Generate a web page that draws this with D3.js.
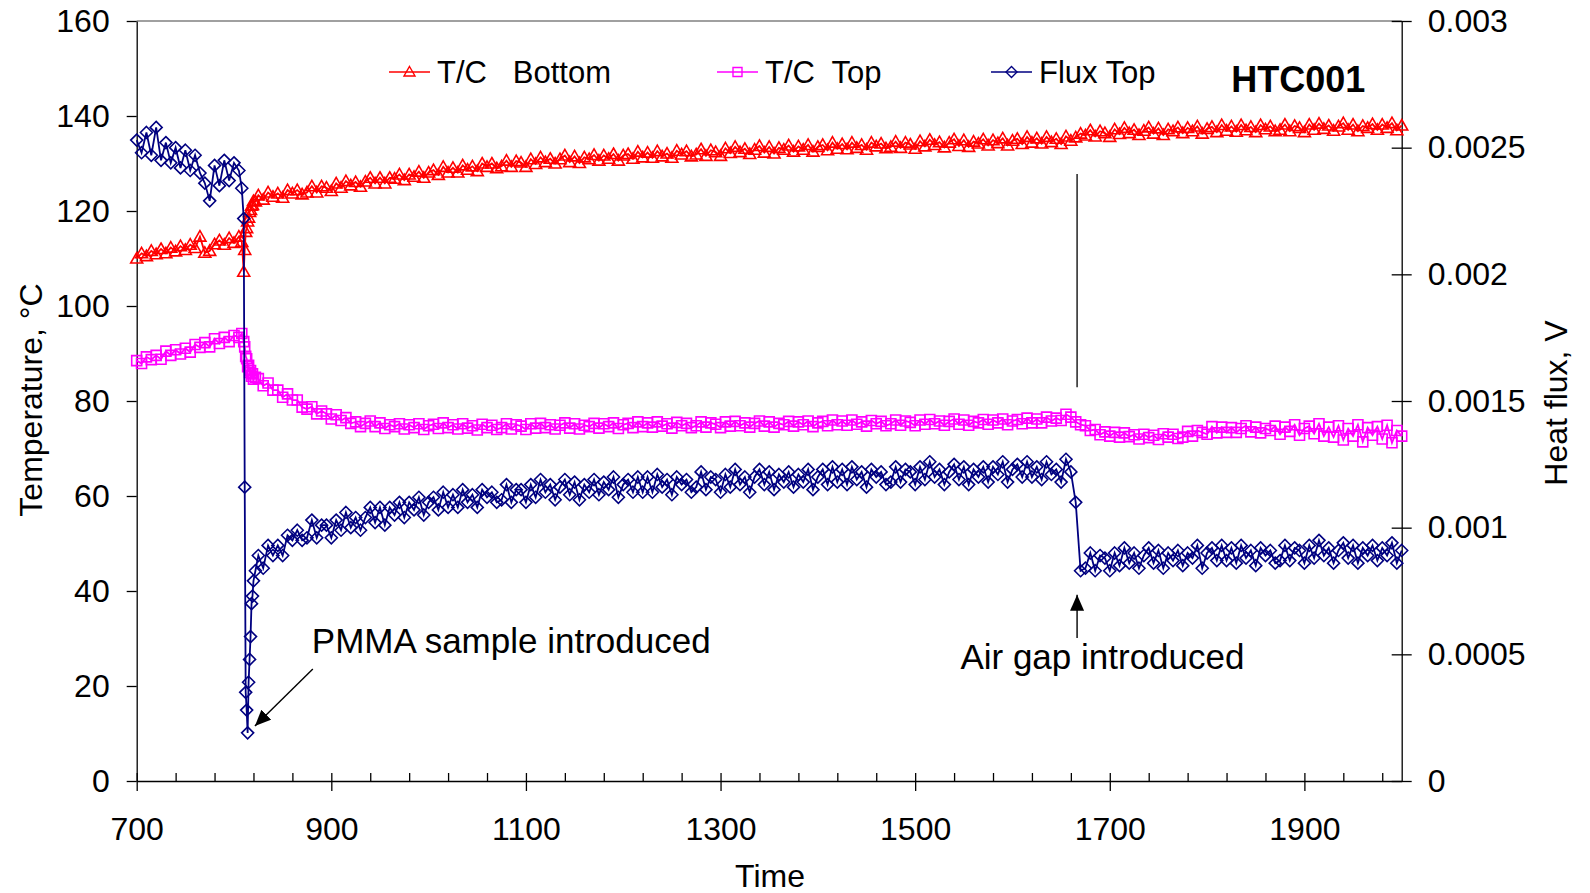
<!DOCTYPE html>
<html>
<head>
<meta charset="utf-8">
<title>HTC001</title>
<script src="https://cdn.jsdelivr.net/npm/d3@7"></script>
<style>
  body { margin: 0; background: #fff; }
  svg { display: block; font-family: "Liberation Sans", Arial, sans-serif; }
  text { white-space: pre; }
</style>
</head>
<body>
<div id="chart"></div>
<script>
// sampling times, s (5 s grid, denser around the moment the sample goes in)
const dropTimes = [805, 808, 810, 811, 812, 813, 814, 815, 816, 817, 818, 819, 820, 822];
const time = d3.range(700, 801, 5).concat(dropTimes, d3.range(825, 2001, 5));

// T/C Bottom, deg C
const tcBottom = [
  110.0, 111.1, 110.5, 111.6, 110.9, 112.0, 111.1, 112.3, 111.5, 112.6,
  111.8, 112.9, 112.2, 114.6, 111.2, 111.6, 113.0, 113.8, 112.9, 114.3,
  113.3,
  114.6, 113.5, 107.2, 111.8, 115.6, 116.4, 117.8, 118.6, 119.8, 120.2, 121.1, 121.3, 122.1, 122.0,
  123.3, 122.4, 123.9, 123.0, 123.7, 122.8, 124.4, 123.7, 124.4, 123.5,
  123.9, 125.2, 123.9, 125.2, 124.9, 124.2, 125.8, 124.9, 126.3, 125.4,
  126.1, 125.1, 126.2, 127.0, 125.8, 127.0, 125.8, 127.0, 126.8, 127.7,
  126.5, 127.7, 127.2, 128.3, 127.0, 128.1, 128.6, 127.6, 129.3, 128.1,
  129.1, 128.1, 129.6, 128.7, 129.4, 128.4, 130.0, 129.3, 130.0, 129.0,
  129.4, 130.6, 129.3, 130.5, 130.2, 129.3, 130.9, 129.9, 131.3, 130.3,
  131.0, 130.0, 130.9, 131.7, 130.3, 131.5, 130.1, 131.3, 130.9, 131.8,
  130.6, 131.7, 131.0, 132.0, 130.6, 131.7, 132.0, 131.0, 132.5, 131.3,
  132.3, 131.2, 132.6, 131.5, 132.1, 131.2, 132.7, 131.9, 132.6, 131.5,
  131.9, 133.0, 131.6, 132.8, 132.4, 131.6, 133.2, 132.2, 133.5, 132.4,
  133.1, 132.0, 132.9, 133.7, 132.3, 133.5, 132.1, 133.3, 132.9, 133.8,
  132.5, 133.6, 132.9, 133.9, 132.5, 133.5, 133.9, 132.8, 134.4, 133.1,
  134.1, 133.0, 134.4, 133.3, 133.9, 132.9, 134.4, 133.6, 134.2, 133.2,
  133.5, 134.6, 133.3, 134.4, 134.0, 133.1, 134.7, 133.6, 135.0, 133.9,
  134.5, 133.4, 134.4, 135.1, 133.7, 134.9, 133.5, 134.6, 134.2, 135.1,
  133.8, 134.9, 134.3, 135.3, 133.8, 134.8, 135.2, 134.1, 135.6, 134.4,
  135.3, 134.2, 135.6, 134.5, 135.2, 134.1, 135.7, 134.8, 135.5, 136.3,
  135.9, 137.0, 135.7, 136.8, 136.4, 135.6, 137.2, 136.2, 137.5, 136.4,
  137.1, 136.0, 136.9, 137.6, 136.3, 137.4, 136.0, 137.2, 136.8, 137.6,
  136.4, 137.5, 136.8, 137.8, 136.3, 137.3, 137.7, 136.6, 138.1, 136.9,
  137.8, 136.7, 138.1, 137.0, 137.7, 136.6, 138.1, 137.2, 137.8, 136.8,
  137.1, 138.2, 136.8, 137.9, 137.5, 136.6, 138.2, 137.1, 138.4, 137.3,
  138.0, 136.9, 137.8, 138.5, 137.1, 138.2, 136.8, 137.9, 137.5, 138.3,
  137.1, 138.2, 137.5, 138.5, 137.0, 138.0
];

// T/C Top, deg C
const tcTop = [
  88.5, 87.9, 89.3, 88.7, 89.6, 88.8, 90.5, 89.6, 90.8, 89.9,
  91.1, 90.3, 91.9, 91.3, 92.3, 91.4, 93.1, 92.1, 93.4, 92.5,
  93.8,
  93.4, 94.2, 92.5, 91.4, 89.4, 88.9, 87.2, 87.5, 86.0, 86.4, 85.2, 85.7, 84.6, 85.0,
  84.7, 83.2, 83.8, 82.3, 82.3, 80.8, 81.5, 80.2, 80.2, 78.7,
  78.3, 78.8, 77.3, 77.9, 77.3, 76.2, 77.1, 75.9, 76.5, 75.3,
  75.6, 74.6, 75.3, 75.8, 74.6, 75.4, 74.2, 75.0, 74.6, 75.2,
  74.1, 75.0, 74.4, 75.2, 74.0, 74.8, 75.1, 74.2, 75.4, 74.4,
  75.0, 74.1, 75.2, 74.3, 74.8, 73.9, 75.1, 74.4, 74.9, 74.0,
  74.4, 75.2, 74.1, 75.0, 74.7, 74.0, 75.2, 74.3, 75.3, 74.4,
  75.0, 74.1, 74.9, 75.4, 74.3, 75.2, 74.1, 74.9, 74.6, 75.3,
  74.3, 75.2, 74.6, 75.4, 74.2, 75.0, 75.3, 74.4, 75.6, 74.6,
  75.4, 74.5, 75.6, 74.7, 75.2, 74.3, 75.5, 74.8, 75.3, 74.4,
  74.8, 75.6, 74.5, 75.4, 75.1, 74.4, 75.6, 74.7, 75.7, 74.8,
  75.4, 74.5, 75.3, 75.8, 74.7, 75.6, 74.5, 75.3, 75.0, 75.7,
  74.7, 75.6, 75.0, 75.8, 74.6, 75.4, 75.7, 74.8, 76.0, 75.0,
  75.8, 74.9, 76.0, 75.1, 75.6, 74.7, 75.9, 75.2, 75.7, 74.8,
  75.2, 76.0, 74.9, 75.8, 75.5, 74.8, 76.0, 75.1, 76.1, 75.2,
  75.8, 74.9, 75.7, 76.2, 75.1, 76.0, 74.9, 75.7, 75.4, 76.1,
  75.1, 76.0, 75.4, 76.2, 75.0, 75.8, 76.1, 75.2, 76.4, 75.4,
  76.2, 75.4, 76.6, 75.8, 76.4, 75.9, 77.2, 76.6, 75.6, 75.0,
  74.8, 73.8, 74.0, 72.9, 73.5, 72.6, 73.4, 72.4, 73.3, 72.5,
  72.9, 72.0, 73.0, 72.3, 72.8, 71.9, 73.1, 72.4, 73.0, 72.1,
  72.4, 73.6, 72.6, 73.8, 73.4, 73.0, 74.6, 73.3, 74.5, 73.4,
  74.4, 73.4, 74.2, 74.8, 73.5, 74.5, 73.3, 74.2, 73.8, 74.7,
  73.0, 74.5, 73.6, 75.0, 72.8, 74.2, 74.7, 73.1, 75.2, 72.6,
  74.5, 72.4, 74.8, 71.8, 74.2, 72.6, 75.0, 71.4, 74.4, 72.8,
  74.6, 72.0, 74.9, 71.2, 73.8, 72.6
];

// Flux Top, V (secondary axis)
const fluxTop = [
  0.00253, 0.00248, 0.00256, 0.00247, 0.00258, 0.00245, 0.00252, 0.00244, 0.00250, 0.00242,
  0.00249, 0.00241, 0.00247, 0.00240, 0.00236, 0.00229, 0.00243, 0.00235, 0.00245, 0.00237,
  0.00244,
  0.00241, 0.00234, 0.00222, 0.00116, 0.00035, 0.00028, 0.00019, 0.00039, 0.00048, 0.00057, 0.00070, 0.00073, 0.00079, 0.00083,
  0.00089, 0.00084, 0.00093, 0.00089, 0.00093, 0.00089, 0.00097, 0.00095, 0.00099, 0.00095,
  0.00096, 0.00103, 0.00096, 0.00101, 0.00101, 0.00096, 0.00103, 0.00099, 0.00106, 0.00100,
  0.00104, 0.00099, 0.00104, 0.00108, 0.00102, 0.00108, 0.00101, 0.00108, 0.00105, 0.00110,
  0.00104, 0.00110, 0.00107, 0.00112, 0.00105, 0.00110, 0.00112, 0.00107, 0.00114, 0.00108,
  0.00113, 0.00108, 0.00115, 0.00110, 0.00113, 0.00108, 0.00115, 0.00112, 0.00114, 0.00110,
  0.00111, 0.00117, 0.00110, 0.00115, 0.00115, 0.00110, 0.00117, 0.00112, 0.00119, 0.00114,
  0.00117, 0.00111, 0.00116, 0.00119, 0.00113, 0.00118, 0.00111, 0.00117, 0.00114, 0.00119,
  0.00113, 0.00118, 0.00115, 0.00120, 0.00112, 0.00117, 0.00119, 0.00114, 0.00120, 0.00114,
  0.00120, 0.00114, 0.00121, 0.00116, 0.00119, 0.00113, 0.00120, 0.00117, 0.00119, 0.00114,
  0.00116, 0.00122, 0.00115, 0.00120, 0.00119, 0.00114, 0.00121, 0.00116, 0.00123, 0.00117,
  0.00120, 0.00114, 0.00120, 0.00123, 0.00117, 0.00122, 0.00115, 0.00121, 0.00118, 0.00122,
  0.00116, 0.00121, 0.00118, 0.00123, 0.00115, 0.00120, 0.00123, 0.00117, 0.00124, 0.00118,
  0.00123, 0.00117, 0.00124, 0.00119, 0.00122, 0.00116, 0.00123, 0.00120, 0.00122, 0.00117,
  0.00118, 0.00124, 0.00118, 0.00123, 0.00122, 0.00117, 0.00124, 0.00119, 0.00126, 0.00120,
  0.00123, 0.00117, 0.00122, 0.00125, 0.00119, 0.00124, 0.00117, 0.00123, 0.00120, 0.00124,
  0.00118, 0.00124, 0.00121, 0.00126, 0.00118, 0.00123, 0.00125, 0.00120, 0.00126, 0.00120,
  0.00124, 0.00119, 0.00126, 0.00121, 0.00123, 0.00118, 0.00127, 0.00122, 0.00110, 0.00083,
  0.00084, 0.00090, 0.00083, 0.00089, 0.00088, 0.00083, 0.00090, 0.00085, 0.00092, 0.00086,
  0.00090, 0.00084, 0.00089, 0.00092, 0.00086, 0.00091, 0.00084, 0.00090, 0.00087, 0.00091,
  0.00085, 0.00090, 0.00088, 0.00093, 0.00084, 0.00090, 0.00092, 0.00087, 0.00093, 0.00087,
  0.00092, 0.00086, 0.00093, 0.00088, 0.00091, 0.00085, 0.00092, 0.00089, 0.00091, 0.00086,
  0.00087, 0.00093, 0.00087, 0.00092, 0.00091, 0.00086, 0.00093, 0.00088, 0.00095, 0.00089,
  0.00092, 0.00086, 0.00091, 0.00094, 0.00088, 0.00093, 0.00086, 0.00092, 0.00089, 0.00093,
  0.00087, 0.00092, 0.00089, 0.00094, 0.00086, 0.00091
];

const timeTicks = [700, 900, 1100, 1300, 1500, 1700, 1900];
const tempTicks = [0, 20, 40, 60, 80, 100, 120, 140, 160];
const fluxTicks = [0, 0.0005, 0.001, 0.0015, 0.002, 0.0025, 0.003];
const fluxTickLabels = ['0', '0.0005', '0.001', '0.0015', '0.002', '0.0025', '0.003'];
const seriesNames = ['T/C   Bottom', 'T/C  Top', 'Flux Top'];

// notes placed in data units (time, deg C)
const notes = [
  { text: 'PMMA sample introduced', t: 880, temp: 27.0, from: [881, 23.6], to: [821.5, 11.6] },
  { text: 'Air gap introduced', t: 1546.5, temp: 23.5, from: [1666.4, 30.1], to: [1666.4, 39.2] }
];
const gapLine = { t: 1666.4, from: 127.8, to: 82.9 };

const width = 1590, height = 893;
const plotLeft = 136.7, plotRight = 1401.7, plotTop = 21, plotBottom = 781;
const font = '"Liberation Sans", Arial, sans-serif';

const svg = d3.select('#chart').append('svg')
  .attr('width', width)
  .attr('height', height);

svg.append('rect').attr('width', width).attr('height', height).attr('fill', '#fff');

const x = d3.scaleLinear().domain([700, 2000]).range([plotLeft, plotRight]);
const yT = d3.scaleLinear().domain([0, 160]).range([plotBottom, plotTop]);
const yF = d3.scaleLinear().domain([0, 0.003]).range([plotBottom, plotTop]);

// marker shapes
const triangle = 'M0,-6L6,4.5L-6,4.5Z';
const square = 'M-5,-5H5V5H-5Z';
const diamond = 'M0,-6L6,0L0,6L-6,0Z';

// plot area top edge
svg.append('line')
  .attr('x1', plotLeft).attr('x2', plotRight).attr('y1', plotTop).attr('y2', plotTop)
  .attr('stroke', '#808080').attr('stroke-width', 1.3);

function styleAxis(g) {
  g.attr('font-family', font).attr('font-size', 32).attr('color', '#000');
  g.selectAll('path, line').attr('stroke-width', 1.3);
}

// minor time ticks, inside
const minorTicks = d3.range(740, 2000, 40).filter(v => (v - 700) % 200 !== 0);
svg.append('g')
  .attr('transform', `translate(0,${plotBottom})`)
  .call(d3.axisBottom(x).tickValues(minorTicks).tickSize(-8).tickFormat(''))
  .call(styleAxis)
  .call(g => g.select('.domain').remove());

// time axis, major ticks cross the axis
svg.append('g')
  .attr('transform', `translate(0,${plotBottom})`)
  .call(d3.axisBottom(x).tickValues(timeTicks).tickSizeInner(10).tickSizeOuter(0).tickPadding(26).tickFormat(d3.format('d')))
  .call(styleAxis)
  .call(g => g.selectAll('.tick line').attr('y1', -8));

// temperature axis
svg.append('g')
  .attr('transform', `translate(${plotLeft},0)`)
  .call(d3.axisLeft(yT).tickValues(tempTicks).tickSizeInner(10).tickSizeOuter(0).tickPadding(17))
  .call(styleAxis);

// heat flux axis
svg.append('g')
  .attr('transform', `translate(${plotRight},0)`)
  .call(d3.axisRight(yF).tickValues(fluxTicks).tickSizeInner(10).tickSizeOuter(0).tickPadding(16)
    .tickFormat((d, i) => fluxTickLabels[i]))
  .call(styleAxis)
  .call(g => g.selectAll('.tick line').attr('x1', -10));

function drawSeries(values, yScale, color, shape) {
  const pts = time.map((t, i) => [t, values[i]]);
  const g = svg.append('g');
  g.append('path')
    .datum(pts)
    .attr('fill', 'none')
    .attr('stroke', color)
    .attr('stroke-width', 1.8)
    .attr('d', d3.line().x(d => x(d[0])).y(d => yScale(d[1])));
  g.selectAll('.m')
    .data(pts)
    .join('path')
    .attr('class', 'm')
    .attr('transform', d => `translate(${x(d[0])},${yScale(d[1])})`)
    .attr('d', shape)
    .attr('fill', 'none')
    .attr('stroke', color)
    .attr('stroke-width', 1.6);
}

drawSeries(tcBottom, yT, '#ff0000', triangle);
drawSeries(tcTop, yT, '#ff00ff', square);
drawSeries(fluxTop, yF, '#000080', diamond);

// legend
const legendItems = [
  { name: seriesNames[0], color: '#ff0000', shape: 'M0,-5.5L5.5,4L-5.5,4Z', x: 389 },
  { name: seriesNames[1], color: '#ff00ff', shape: 'M-4.5,-4.5H4.5V4.5H-4.5Z', x: 717 },
  { name: seriesNames[2], color: '#000080', shape: 'M0,-5.5L5.5,0L0,5.5L-5.5,0Z', x: 991 }
];
const legend = svg.append('g').attr('transform', 'translate(0,72)');
legendItems.forEach(item => {
  const g = legend.append('g').attr('transform', `translate(${item.x},0)`);
  g.append('line').attr('x1', 0).attr('x2', 41).attr('stroke', item.color).attr('stroke-width', 1.5);
  g.append('path').attr('transform', 'translate(20.5,0)').attr('d', item.shape)
    .attr('fill', 'none').attr('stroke', item.color).attr('stroke-width', 1.4);
  g.append('text').attr('x', 48).attr('y', 10.5)
    .attr('font-family', font).attr('font-size', 31).text(item.name);
});

svg.append('text')
  .attr('x', x(1824.8)).attr('y', yT(145))
  .attr('font-family', font).attr('font-size', 36).attr('font-weight', 'bold')
  .text('HTC001');

// annotations
const defs = svg.append('defs');
defs.append('marker')
  .attr('id', 'head')
  .attr('viewBox', '0 0 16 14')
  .attr('refX', 16).attr('refY', 7)
  .attr('markerWidth', 16).attr('markerHeight', 14)
  .attr('markerUnits', 'userSpaceOnUse')
  .attr('orient', 'auto')
  .append('path').attr('d', 'M0,0L16,7L0,14Z').attr('fill', '#000');

notes.forEach(n => {
  svg.append('line')
    .attr('x1', x(n.from[0])).attr('y1', yT(n.from[1]))
    .attr('x2', x(n.to[0])).attr('y2', yT(n.to[1]))
    .attr('stroke', '#000').attr('stroke-width', 1.4)
    .attr('marker-end', 'url(#head)');
  svg.append('text')
    .attr('x', x(n.t)).attr('y', yT(n.temp))
    .attr('font-family', font).attr('font-size', 35)
    .text(n.text);
});

svg.append('line')
  .attr('x1', x(gapLine.t)).attr('x2', x(gapLine.t))
  .attr('y1', yT(gapLine.from)).attr('y2', yT(gapLine.to))
  .attr('stroke', '#000').attr('stroke-width', 1.3);

// axis titles
svg.append('text')
  .attr('transform', 'translate(42,400) rotate(-90)')
  .attr('text-anchor', 'middle')
  .attr('font-family', font).attr('font-size', 32)
  .text('Temperature, °C');

svg.append('text')
  .attr('transform', 'translate(1567,403) rotate(-90)')
  .attr('text-anchor', 'middle')
  .attr('font-family', font).attr('font-size', 32)
  .text('Heat flux, V');

svg.append('text')
  .attr('x', 770).attr('y', 887)
  .attr('text-anchor', 'middle')
  .attr('font-family', font).attr('font-size', 32)
  .text('Time');
</script>
</body>
</html>
